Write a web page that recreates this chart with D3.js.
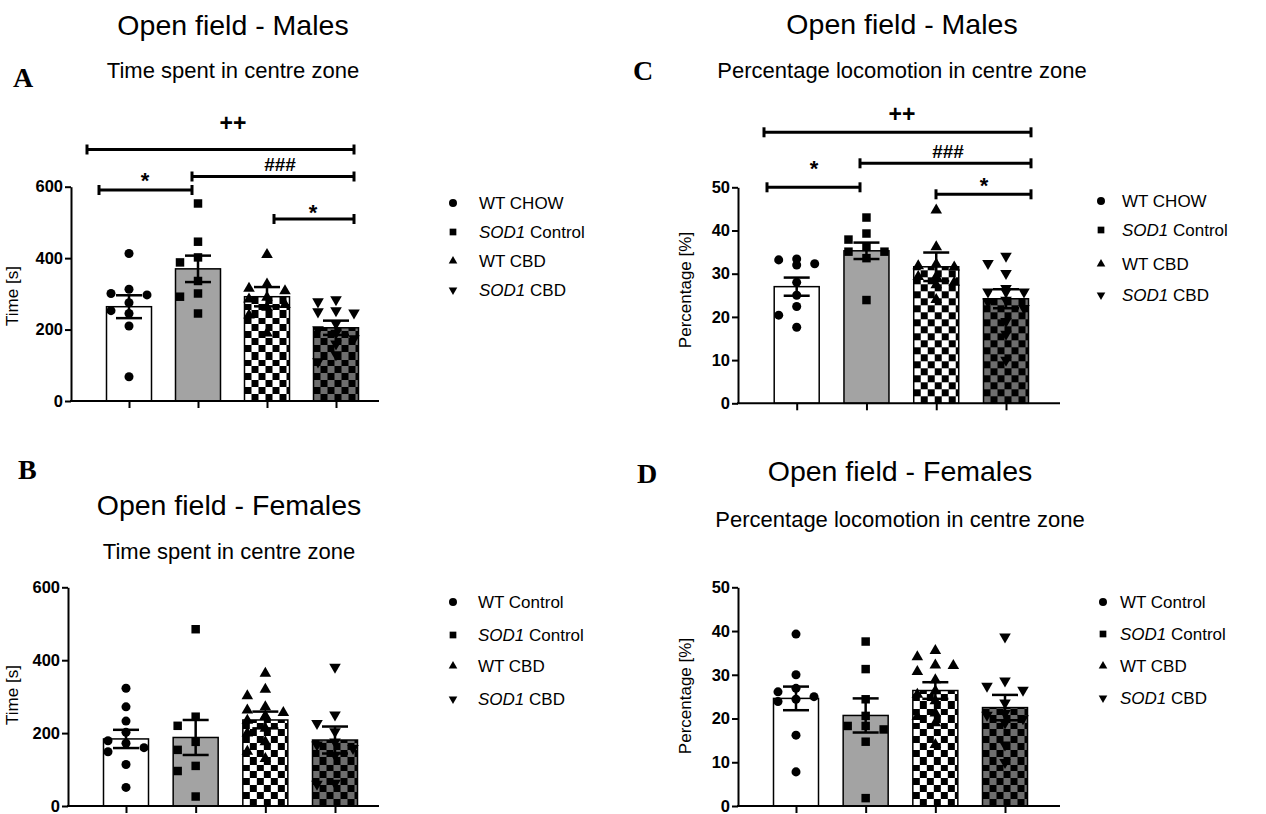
<!DOCTYPE html>
<html>
<head>
<meta charset="utf-8">
<script src="https://cdn.jsdelivr.net/npm/d3@7"></script>
<style>
  body { margin: 0; background: #fff; }
  svg text { font-family: "Liberation Sans", Arial, sans-serif; fill: #000; }
  .axis .domain, .axis line { stroke: #000; stroke-width: 2; }
</style>
</head>
<body>
<div id="chart-container"></div>
<script>
// four open field panels
const svgWidth = 1266;
const svgHeight = 814;

// group labels (legend text), male panels say CHOW, female say Control
const maleGroups = ["WT CHOW", "SOD1 Control", "WT CBD", "SOD1 CBD"];
const femaleGroups = ["WT Control", "SOD1 Control", "WT CBD", "SOD1 CBD"];

// A - males, time in centre zone [s]
const timeMaleMeans = [264, 370, 292, 205];
const timeMaleSem = [32, 37, 27, 20];
const timeMalePts = [
    [413, 313, 301, 297, 275, 253, 245, 210, 68],
    [553, 446, 402, 388, 336, 301, 292, 245],
    [410, 327, 315, 308, 290, 285, 270, 262, 240, 190],
    [284, 278, 253, 250, 247, 217, 200, 190, 175, 160, 130, 110]
];
const timeMaleSig = [["++", 0, 3], ["*", 0, 1], ["###", 1, 3], ["*", 2, 3]];

// B - females, time in centre zone [s]
const timeFemaleMeans = [184, 188, 236, 181];
const timeFemaleSem = [25, 48, 23, 37];
const timeFemalePts = [
    [323, 272, 233, 202, 179, 172, 160, 149, 114, 51],
    [485, 245, 220, 176, 154, 110, 96, 26],
    [364, 320, 302, 272, 263, 256, 247, 245, 235, 213, 200, 176, 150, 130],
    [381, 250, 227, 204, 176, 168, 158, 140, 63, 60]
];

// C - males, percentage locomotion in centre zone
const pctMaleMeans = [27.0, 35.3, 31.6, 24.2];
const pctMaleSem = [2.1, 1.9, 3.3, 2.2];
const pctMalePts = [
    [33.4, 33.2, 32.3, 32.0, 28.0, 25.0, 22.4, 20.4, 17.6],
    [43.0, 39.3, 37.9, 36.2, 35.1, 35.1, 33.6, 23.9],
    [44.7, 36.2, 32.2, 31.8, 31.5, 29.3, 29.3, 28.0, 27.4, 24.0],
    [34.1, 32.4, 30.1, 26.6, 25.8, 25.8, 25.8, 23.9, 23.5, 22.0, 19.0, 16.0, 10.0]
];
const pctMaleSig = [["++", 0, 3], ["*", 0, 1], ["###", 1, 3], ["*", 2, 3]];

// D - females, percentage locomotion in centre zone
const pctFemaleMeans = [24.6, 20.7, 26.4, 22.5];
const pctFemaleSem = [2.7, 3.9, 1.9, 2.9];
const pctFemalePts = [
    [39.3, 30.0, 26.9, 26.1, 25.0, 24.4, 23.9, 16.2, 7.8],
    [37.6, 31.3, 24.4, 20.6, 18.3, 18.3, 17.5, 14.7, 1.8],
    [35.5, 34.1, 32.2, 32.1, 30.7, 28.8, 26.3, 25.5, 24.0, 21.2, 20.4, 19.0, 14.0],
    [38.7, 28.6, 27.4, 26.5, 23.6, 21.2, 20.8, 20.0, 19.0, 14.0, 10.0]
];

const timeTicks = [0, 200, 400, 600];
const pctTicks = [0, 10, 20, 30, 40, 50];

const svg = d3.select("#chart-container")
    .append("svg")
    .attr("width", svgWidth)
    .attr("height", svgHeight);

const defs = svg.append("defs");

// symbols: circle, square, triangle, inverted triangle
const symbolTypes = [d3.symbolCircle, d3.symbolSquare, d3.symbolTriangle, d3.symbolTriangle];
const symbolRot = [0, 0, 0, 180];
const symbolSize = [64, 72, 58, 58];

function drawPanel(p) {
    const g = svg.append("g");
    const y = d3.scaleLinear().domain([0, p.max]).range([p.y0, p.y1]);
    const x = d3.scalePoint().domain(d3.range(4)).range([p.c0, p.c3]);
    const barW = 45;

    // patterns for checker bars
    [2, 3].forEach(i => {
        const pat = defs.append("pattern")
            .attr("id", `chk-${p.id}-${i}`)
            .attr("patternUnits", "userSpaceOnUse")
            .attr("width", 14).attr("height", 14)
            .attr("x", x(i) - barW / 2).attr("y", p.y0);
        pat.append("rect").attr("width", 14).attr("height", 14)
            .attr("fill", i == 2 ? "#fff" : "#6e6e6e");
        pat.append("rect").attr("width", 7).attr("height", 7).attr("fill", "#000");
        pat.append("rect").attr("x", 7).attr("y", 7).attr("width", 7).attr("height", 7).attr("fill", "#000");
    });
    const fills = ["#fff", "#a3a3a3", `url(#chk-${p.id}-2)`, `url(#chk-${p.id}-3)`];

    // bars
    g.selectAll(".bar")
        .data(p.means)
        .enter()
        .append("rect")
        .attr("x", (d, i) => x(i) - barW / 2)
        .attr("y", d => y(d))
        .attr("width", barW)
        .attr("height", d => p.y0 - y(d))
        .attr("fill", (d, i) => fills[i])
        .attr("stroke", "#000")
        .attr("stroke-width", 1.5);

    // points, spread sideways when they would overlap (like prism does)
    const offs = [0, -18, 18, -9, 9, -27, 27, -13, 13];
    p.pts.forEach((vals, i) => {
        const placed = [];
        vals.forEach(v => {
            const py = y(v);
            let dx = 0;
            for (const o of offs) {
                if (!placed.some(q => Math.abs(q[0] - o) < 10 && Math.abs(q[1] - py) < 9.5)) { dx = o; break; }
            }
            placed.push([dx, py]);
        });
        g.selectAll(`.pt${i}`)
            .data(placed)
            .enter()
            .append("path")
            .attr("d", d3.symbol().type(symbolTypes[i]).size(symbolSize[i]))
            .attr("transform", d => `translate(${x(i) + d[0]},${d[1]}) rotate(${symbolRot[i]})`)
            .attr("fill", "#000");
    });

    // error bars (mean +- sem)
    const eb = g.selectAll(".eb").data(p.means).enter().append("g");
    eb.append("line")
        .attr("x1", (d, i) => x(i)).attr("x2", (d, i) => x(i))
        .attr("y1", (d, i) => y(d + p.sem[i])).attr("y2", (d, i) => y(d - p.sem[i]))
        .attr("stroke", "#000").attr("stroke-width", 2.5);
    eb.append("line")
        .attr("x1", (d, i) => x(i) - 13).attr("x2", (d, i) => x(i) + 13)
        .attr("y1", (d, i) => y(d + p.sem[i])).attr("y2", (d, i) => y(d + p.sem[i]))
        .attr("stroke", "#000").attr("stroke-width", 2.5);
    eb.append("line")
        .attr("x1", (d, i) => x(i) - 13).attr("x2", (d, i) => x(i) + 13)
        .attr("y1", (d, i) => y(d - p.sem[i])).attr("y2", (d, i) => y(d - p.sem[i]))
        .attr("stroke", "#000").attr("stroke-width", 2.5);

    // axes
    const ya = g.append("g")
        .attr("class", "axis")
        .attr("transform", `translate(${p.x0},0)`)
        .call(d3.axisLeft(y).tickValues(p.ticks).tickSize(6).tickSizeOuter(0).tickPadding(2));
    ya.selectAll("text")
        .style("font-size", "16.5px")
        .style("font-weight", "bold")
        .style("font-family", "'Liberation Sans', Arial, sans-serif");
    const xa = g.append("g")
        .attr("class", "axis")
        .attr("transform", `translate(0,${p.y0})`)
        .call(d3.axisBottom(x).tickFormat("").tickSize(7));
    xa.select(".domain").remove();
    xa.append("line").attr("x1", p.x0 - 1).attr("x2", p.x1).attr("stroke", "#000").attr("stroke-width", 2);

    // y label
    g.append("text")
        .text(p.ylabel)
        .attr("transform", `translate(${p.lx},${p.ly}) rotate(-90)`)
        .attr("text-anchor", "middle")
        .attr("font-size", 17);

    // titles
    g.append("text").text(p.title)
        .attr("x", p.tx).attr("y", p.ty1)
        .attr("text-anchor", "middle").attr("font-size", 28.5);
    g.append("text").text(p.subtitle)
        .attr("x", p.tx).attr("y", p.ty2)
        .attr("text-anchor", "middle").attr("font-size", 22);
    g.append("text").text(p.letter)
        .attr("x", p.letX).attr("y", p.letY)
        .style("font-family", "'Liberation Serif', 'Times New Roman', serif")
        .attr("font-weight", "bold").attr("font-size", 28);

    // legend
    const lg = g.selectAll(".leg").data(p.groups).enter().append("g")
        .attr("transform", (d, i) => `translate(${p.legX},${p.legY[i]})`);
    lg.append("path")
        .attr("d", (d, i) => d3.symbol().type(symbolTypes[i]).size([50, 45, 32, 32][i])())
        .attr("transform", (d, i) => `rotate(${symbolRot[i]})`)
        .attr("fill", "#000");
    const lt = lg.append("text")
        .attr("x", p.legTx - p.legX)
        .attr("y", 6)
        .attr("font-size", 17);
    lt.each(function (d) {
        const t = d3.select(this);
        if (d.startsWith("SOD1")) {
            t.append("tspan").attr("font-style", "italic").text("SOD1");
            t.append("tspan").text(d.slice(4));
        } else {
            t.text(d);
        }
    });

    // significance brackets
    if (p.sig) {
        p.sig.forEach((s, k) => {
            const b = p.brk[k];
            const bg = g.append("g");
            bg.append("line").attr("x1", b.x1).attr("x2", b.x2).attr("y1", b.y).attr("y2", b.y)
                .attr("stroke", "#000").attr("stroke-width", 3);
            [b.x1, b.x2].forEach(xx => {
                bg.append("line").attr("x1", xx).attr("x2", xx).attr("y1", b.y - 5).attr("y2", b.y + 5)
                    .attr("stroke", "#000").attr("stroke-width", 3);
            });
            const lab = s[0];
            let fs = 22, k2 = 0.57, fw = "bold";
            if (lab == "++") { fs = 23; k2 = 0.36; fw = "bold"; }
            if (lab == "###") { fs = 19; k2 = 0.35; fw = "bold"; }
            bg.append("text").text(lab)
                .attr("x", b.tx).attr("y", b.ty + fs * k2)
                .attr("text-anchor", "middle")
                .attr("font-size", fs).attr("font-weight", fw);
        });
    }
}

drawPanel({
    id: "A", max: 600, ticks: timeTicks, means: timeMaleMeans, sem: timeMaleSem, pts: timeMalePts,
    x0: 71, x1: 379, y0: 401, y1: 186.7, c0: 129, c3: 336,
    ylabel: "Time [s]", lx: 18, ly: 296,
    title: "Open field - Males", subtitle: "Time spent in centre zone", tx: 233, ty1: 35, ty2: 78,
    letter: "A", letX: 13, letY: 87,
    groups: maleGroups, legX: 453, legTx: 479, legY: [203, 232, 261, 290],
    sig: timeMaleSig,
    brk: [
        { x1: 87, x2: 354, y: 149.5, tx: 233, ty: 123 },
        { x1: 99, x2: 192, y: 190, tx: 145, ty: 175 },
        { x1: 192, x2: 354, y: 176.5, tx: 280, ty: 164 },
        { x1: 274, x2: 354, y: 219, tx: 313, ty: 207 }
    ]
});

drawPanel({
    id: "B", max: 600, ticks: timeTicks, means: timeFemaleMeans, sem: timeFemaleSem, pts: timeFemalePts,
    x0: 68, x1: 379, y0: 806, y1: 587.3, c0: 126, c3: 335,
    ylabel: "Time [s]", lx: 18, ly: 695,
    title: "Open field - Females", subtitle: "Time spent in centre zone", tx: 229, ty1: 515, ty2: 559,
    letter: "B", letX: 18, letY: 479,
    groups: femaleGroups, legX: 453, legTx: 478, legY: [602, 635, 666, 699]
});

drawPanel({
    id: "C", max: 50, ticks: pctTicks, means: pctMaleMeans, sem: pctMaleSem, pts: pctMalePts,
    x0: 738, x1: 1060, y0: 403.3, y1: 187.3, c0: 796.7, c3: 1006,
    ylabel: "Percentage [%]", lx: 691, ly: 290,
    title: "Open field - Males", subtitle: "Percentage locomotion in centre zone", tx: 902, ty1: 34, ty2: 78,
    letter: "C", letX: 633, letY: 80,
    groups: maleGroups, legX: 1101, legTx: 1122, legY: [201, 230, 264, 295],
    sig: pctMaleSig,
    brk: [
        { x1: 764, x2: 1031, y: 132.3, tx: 902, ty: 114 },
        { x1: 767, x2: 860, y: 187.3, tx: 814, ty: 163 },
        { x1: 860, x2: 1031, y: 163.3, tx: 948, ty: 151 },
        { x1: 936, x2: 1031, y: 194.3, tx: 984, ty: 180 }
    ]
});

drawPanel({
    id: "D", max: 50, ticks: pctTicks, means: pctFemaleMeans, sem: pctFemaleSem, pts: pctFemalePts,
    x0: 738, x1: 1060, y0: 806, y1: 587.3, c0: 796, c3: 1005,
    ylabel: "Percentage [%]", lx: 691, ly: 696,
    title: "Open field - Females", subtitle: "Percentage locomotion in centre zone", tx: 900, ty1: 481, ty2: 527,
    letter: "D", letX: 637, letY: 483,
    groups: femaleGroups, legX: 1103, legTx: 1120, legY: [602, 634, 666, 698]
});
</script>
</body>
</html>
